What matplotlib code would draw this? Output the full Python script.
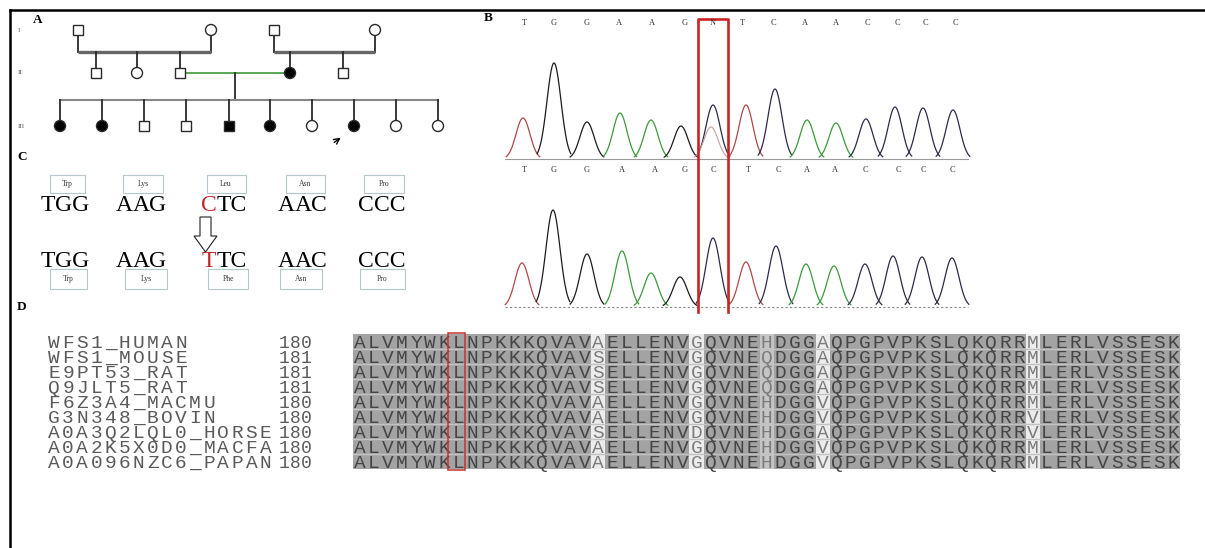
import numpy as np
import matplotlib.pyplot as plt
from matplotlib.patches import Rectangle, Circle, Polygon

W, H = 1205, 548

serif = ['Liberation Serif', 'DejaVu Serif']
mono = ['Liberation Mono', 'DejaVu Sans Mono']

# ---------------- data ----------------
# A: pedigree, one list per generation (sex, affected)
gen_names = ["I", "II", "III"]
gen1_sex = ["m", "f", "m", "f"]
gen1_aff = [0, 0, 0, 0]
gen2_sex = ["m", "f", "m", "f", "m"]
gen2_aff = [0, 0, 0, 1, 0]
gen3_sex = ["f", "f", "m", "m", "m", "f", "f", "f", "f", "f"]
gen3_aff = [1, 1, 0, 0, 1, 1, 0, 1, 0, 0]
proband = 7

# B: chromatograms (patient on top, reference below)
calls_top = "TGGAAGNTCAACCCC"
calls_bot = "TGGAAGCTCAACCCC"
peak_pos_top = [523, 554, 587, 620, 651, 681, 713, 746, 775, 807, 836, 866, 895, 923, 953]
peak_h_top = [41, 96, 37, 46, 39, 33, 54, 54, 70, 39, 36, 40, 52, 51, 49]
peak_pos_bot = [522, 553, 587, 622, 651, 680, 713, 746, 776, 806, 834, 865, 893, 922, 952]
peak_h_bot = [44, 97, 53, 56, 34, 30, 69, 45, 61, 43, 41, 43, 51, 50, 49]
het_peak_h = 32          # secondary T peak under the N call
label_pos_top = [524, 554, 587, 619, 652, 685, 713, 742, 773, 805, 836, 867, 897, 925, 955]
label_pos_bot = [524, 554, 587, 622, 655, 685, 713, 748, 778, 807, 835, 865, 898, 923, 952]

# C: codons
codons_ref = ["TGG", "AAG", "CTC", "AAC", "CCC"]
codons_mut = ["TGG", "AAG", "TTC", "AAC", "CCC"]
aa_ref = ["Trp", "Lys", "Leu", "Asn", "Pro"]
aa_mut = ["Trp", "Lys", "Phe", "Asn", "Pro"]
mut_codon = 2

# D: alignment
names = ["WFS1_HUMAN", "WFS1_MOUSE", "E9PT53_RAT", "Q9JLT5_RAT", "F6Z3A4_MACMU",
         "G3N348_BOVIN", "A0A3Q2LQL0_HORSE", "A0A2K5X0D0_MACFA", "A0A096NZC6_PAPAN"]
starts = [180, 181, 181, 181, 180, 180, 180, 180, 180]
seqs = [
    "ALVMYWKLNPKKKQVAVAELLENVGQVNEHDGGAQPGPVPKSLQKQRRMLERLVSSESK",
    "ALVMYWKLNPKKKQVAVSELLENVGQVNEQDGGAQPGPVPKSLQKQRRMLERLVSSESK",
    "ALVMYWKLNPKKKQVAVSELLENVGQVNEQDGGAQPGPVPKSLQKQRRMLERLVSSESK",
    "ALVMYWKLNPKKKQVAVSELLENVGQVNEQDGGAQPGPVPKSLQKQRRMLERLVSSESK",
    "ALVMYWKLNPKKKQVAVAELLENVGQVNEHDGGVQPGPVPKSLQKQRRMLERLVSSESK",
    "ALVMYWKLNPKKKQVAVAELLENVGQVNEHDGGVQPGPVPKSLQKQRRVLERLVSSESK",
    "ALVMYWKLNPKKKQVAVSELLENVDQVNEHDGGAQPGPVPKSLQKQRRVLERLVSSESK",
    "ALVMYWKLNPKKKQVAVAELLENVGQVNEHDGGVQPGPVPKSLQKQRRMLERLVSSESK",
    "ALVMYWKLNPKKKQVAVAELLENVGQVNEHDGGVQPGPVPKSLQKQRRMLERLVSSESK",
]
similar = [set("HQ")]
mut_site = 7

channel_color = {"T": "#b04848", "G": "#1c1c1c", "A": "#3b9a3b", "C": "#2b2b48"}

fig = plt.figure(figsize=(W / 100, H / 100), dpi=100)
ax = fig.add_axes([0, 0, 1, 1])
ax.set_xlim(0, W)
ax.set_ylim(H, 0)
ax.axis("off")

# frame
ax.plot([10, W], [10, 10], color="black", lw=1.8)
ax.plot([10, 10], [10, H], color="black", lw=1.8)

for lab, x, y in [("A", 38, 20), ("B", 488, 18), ("C", 22, 157), ("D", 22, 307)]:
    ax.text(x, y, lab, family=serif, fontsize=9.5, fontweight="bold", ha="center", va="center")

# ---------------- A: pedigree ----------------
gy = [30, 73, 126]
x1 = [78, 211, 274, 375]
x2 = [96, 137, 180, 290, 343]
x3 = [60, 102, 144, 186, 229, 270, 312, 354, 396, 438]
lc = "#2a2a2a"

for name, y in zip(gen_names, gy):
    ax.text(18, y, name, family=serif, fontsize=5, color="#555", ha="left", va="center")


def symbol(x, y, sex, aff):
    fc = "black" if aff else "white"
    if sex == "m":
        ax.add_patch(Rectangle((x - 5, y - 5), 10, 10, fc=fc, ec=lc, lw=1.0, zorder=3))
    else:
        ax.add_patch(Circle((x, y), 5.5, fc=fc, ec=lc, lw=1.0, zorder=3))


# generation I couples
for a, b in [(0, 1), (2, 3)]:
    for i in (a, b):
        ax.plot([x1[i], x1[i]], [gy[0] + 5, 52], color=lc, lw=1.3)
    ax.plot([x1[a], x1[b]], [52, 52], color="#666", lw=2.4, solid_capstyle="butt")
for x in x2:
    ax.plot([x, x], [52, gy[1] - 5], color=lc, lw=1.3)

# couple of generation II
ax.plot([x2[2] + 5, x2[3] - 5], [gy[1], gy[1]], color="#3a9a3a", lw=1.2)
mid = (x2[2] + x2[3]) / 2
ax.plot([mid, mid], [gy[1], 100], color=lc, lw=1.3)
ax.plot([x3[0], x3[-1]], [100, 100], color="#888", lw=1.5)
for x in x3:
    ax.plot([x, x], [100, gy[2] - 5], color=lc, lw=1.3)

for x, s, a in zip(x1, gen1_sex, gen1_aff):
    symbol(x, gy[0], s, a)
for x, s, a in zip(x2, gen2_sex, gen2_aff):
    symbol(x, gy[1], s, a)
for x, s, a in zip(x3, gen3_sex, gen3_aff):
    symbol(x, gy[2], s, a)

px = x3[proband]
ax.annotate("", xy=(px - 11, gy[2] + 10), xytext=(px - 22, gy[2] + 18),
            arrowprops=dict(arrowstyle="->", color="black", lw=1.0))

# ---------------- B: chromatograms ----------------
sigma = 7.0


def peak(cx, h, base, color, lw=0.9):
    xs = np.linspace(cx - 2.4 * sigma, cx + 2.4 * sigma, 80)
    ys = base - h * np.exp(-(xs - cx) ** 2 / (2 * sigma ** 2))
    ax.plot(xs, ys, color=color, lw=lw)


base_top, base_bot = 159, 307
ax.plot([505, 968], [base_top, base_top], color="#9a9a9a", lw=0.8)
ax.plot([505, 968], [base_bot, base_bot], color="#888", lw=0.8, ls=(0, (2, 2)))

for i, (c, h) in enumerate(zip(peak_pos_top, peak_h_top)):
    peak(c, h, base_top, channel_color[calls_bot[i]])
    if calls_top[i] == "N":
        peak(c - 2, het_peak_h, base_top, "#c9a0a0", lw=0.8)
for i, (c, h) in enumerate(zip(peak_pos_bot, peak_h_bot)):
    peak(c, h, base_bot, channel_color[calls_bot[i]])

for b, x in zip(calls_top, label_pos_top):
    ax.text(x, 23, b, family=serif, fontsize=6, color="#333", ha="center", va="center")
for b, x in zip(calls_bot, label_pos_bot):
    ax.text(x, 170, b, family=serif, fontsize=6, color="#333", ha="center", va="center")

site = calls_top.index("N")
bx0, bx1 = label_pos_top[site] - 15, label_pos_top[site] + 15
ax.plot([bx0, bx0, bx1, bx1], [312, 19, 19, 312], color="#cc2222", lw=1.9)

# ---------------- C: codon change ----------------
fig.canvas.draw()
renderer = fig.canvas.get_renderer()
codon_x = [65, 141, 224, 303, 382]
cfs = 17


def codon(cx, y, s, first_red):
    t = ax.text(0, 0, s, family=serif, fontsize=cfs)
    w = t.get_window_extent(renderer).width
    t.remove()
    left = cx - w / 2
    c0 = "#c0282a" if first_red else "black"
    t0 = ax.text(left, y, s[0], family=serif, fontsize=cfs, color=c0, ha="left", va="baseline")
    w0 = t0.get_window_extent(renderer).width
    ax.text(left + w0, y, s[1:], family=serif, fontsize=cfs, color="black", ha="left", va="baseline")


def aa_box(cx, cy, w, h, s):
    ax.add_patch(Rectangle((cx - w / 2, cy - h / 2), w, h, fc="white", ec="#b4c6cc", lw=0.8))
    ax.text(cx, cy, s, family=serif, fontsize=5.5, color="#333", ha="center", va="center")


top_w = [35, 40, 39, 39, 40]
bot_w = [37, 42, 40, 42, 45]
bot_x = [68, 146, 228, 301, 382]
for i in range(5):
    aa_box(codon_x[i] + 2, 184, top_w[i], 18, aa_ref[i])
    codon(codon_x[i], 211, codons_ref[i], i == mut_codon)
    codon(codon_x[i], 267, codons_mut[i], i == mut_codon)
    aa_box(bot_x[i], 279, bot_w[i], 20, aa_mut[i])

ax.add_patch(Polygon([(200, 217), (211, 217), (211, 236), (217, 236), (205.5, 252),
                      (194, 236), (200, 236)], closed=True, fc="white", ec="#222", lw=0.8))

# ---------------- D: alignment ----------------
ax0, pitch = 353, 14.02
row_top, row_h = 334, 15.0
ncol = len(seqs[0])
afs = 14
for j in range(ncol):
    col = set(s[j] for s in seqs)
    if len(col) == 1:
        shade = "#a3a3a3"
    elif any(col <= g for g in similar):
        shade = "#c5c5c5"
    else:
        shade = "#ececec"
    ax.add_patch(Rectangle((ax0 + j * pitch, row_top), pitch, row_h * len(seqs),
                           fc=shade, ec="none", zorder=1))
    txt = "#454545" if len(col) == 1 else "#7c7c7c"
    for i, s in enumerate(seqs):
        ax.text(ax0 + (j + 0.5) * pitch, row_top + (i + 0.5) * row_h + 6.2, s[j],
                family=mono, fontsize=afs, color=txt, ha="center", va="baseline", zorder=3)
for i in range(1, len(seqs)):
    ax.plot([ax0, ax0 + ncol * pitch], [row_top + i * row_h] * 2, color="#c2c2c2", lw=1.0, zorder=2)

for i, (n, st) in enumerate(zip(names, starts)):
    y = row_top + (i + 0.5) * row_h + 6.2
    for k, ch in enumerate(n):
        ax.text(47 + (k + 0.5) * 14.1, y, ch, family=mono, fontsize=afs, color="#5a5a5a",
                ha="center", va="baseline")
    for k, ch in enumerate(str(st)):
        ax.text(278 + (k + 0.5) * 11.4, y, ch, family=mono, fontsize=13, color="#5a5a5a",
                ha="center", va="baseline")

ax.add_patch(Rectangle((ax0 + mut_site * pitch - 3, row_top - 1), pitch + 3, row_h * len(seqs) + 2,
                       fc="none", ec="#c83030", lw=1.1, zorder=4))

fig.savefig("out.png", dpi=100, facecolor="white")
